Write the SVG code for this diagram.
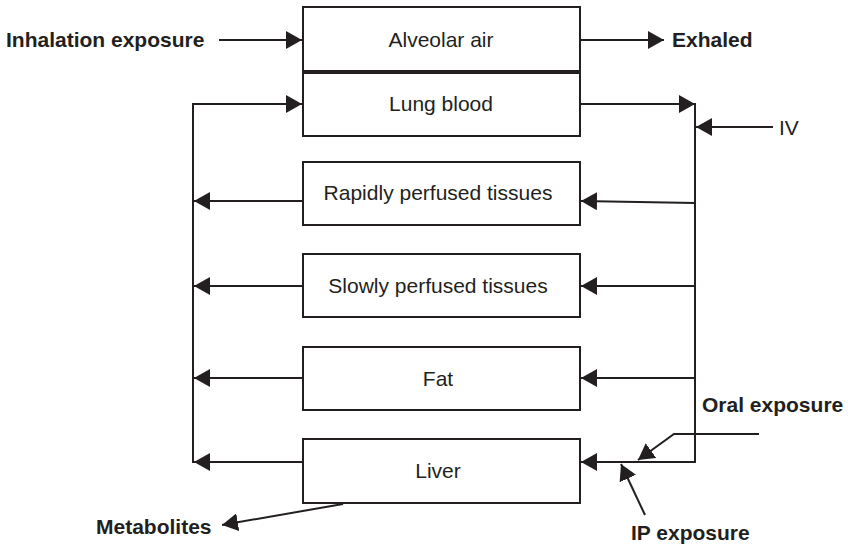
<svg xmlns="http://www.w3.org/2000/svg" width="848" height="548" viewBox="0 0 848 548">
  <style>
    .box { fill: #ffffff; stroke: #231f20; stroke-width: 2; }
    .lbl { font-family: "Liberation Sans", Arial, sans-serif; font-size: 21px; fill: #231f20; text-anchor: middle; }
    .ext { font-family: "Liberation Sans", Arial, sans-serif; font-size: 21px; font-weight: bold; fill: #231f20; }
    .reg { font-family: "Liberation Sans", Arial, sans-serif; font-size: 21px; fill: #231f20; }
    .wire { fill: none; stroke: #231f20; stroke-width: 2; }
    .arr { fill: none; stroke: #231f20; stroke-width: 2; marker-end: url(#head); }
  </style>
  <defs>
    <marker id="head" markerUnits="userSpaceOnUse" markerWidth="17" markerHeight="18" viewBox="0 0 17 18" refX="16" refY="9" orient="auto">
      <path d="M0,0 L16,9 L0,18 Z" fill="#231f20"/>
    </marker>
  </defs>

  <rect width="848" height="548" fill="#ffffff"/>

  <!-- compartments -->
  <g id="alveolar-air">
    <rect class="box" x="303" y="7" width="277" height="64"/>
    <text class="lbl" x="441" y="47">Alveolar air</text>
  </g>
  <g id="lung-blood">
    <rect class="box" x="303" y="73" width="277" height="63"/>
    <text class="lbl" x="441" y="111">Lung blood</text>
  </g>
  <g id="rapidly-perfused">
    <rect class="box" x="303" y="162" width="277" height="63"/>
    <text class="lbl" x="438" y="200">Rapidly perfused tissues</text>
  </g>
  <g id="slowly-perfused">
    <rect class="box" x="303" y="254" width="277" height="63"/>
    <text class="lbl" x="438" y="293">Slowly perfused tissues</text>
  </g>
  <g id="fat">
    <rect class="box" x="303" y="347" width="277" height="63"/>
    <text class="lbl" x="438" y="386">Fat</text>
  </g>
  <g id="liver">
    <rect class="box" x="303" y="439" width="277" height="64"/>
    <text class="lbl" x="438" y="478">Liver</text>
  </g>

  <!-- external labels -->
  <g id="inhalation">
    <text class="ext" x="6" y="47">Inhalation exposure</text>
  </g>
  <g id="exhaled">
    <text class="ext" x="672" y="47">Exhaled</text>
  </g>
  <g id="iv">
    <text class="reg" x="779" y="135">IV</text>
  </g>
  <g id="oral">
    <text class="ext" x="702" y="412">Oral exposure</text>
  </g>
  <g id="ip">
    <text class="ext" x="631" y="540">IP exposure</text>
  </g>
  <g id="metabolites">
    <text class="ext" x="96" y="534">Metabolites</text>
  </g>

  <!-- flows -->
  <g id="connectors">
    <line class="arr" x1="219" y1="40" x2="302" y2="40"/>
    <line class="arr" x1="581" y1="40" x2="664" y2="40"/>
    <!-- arterial side -->
    <line class="arr" x1="581" y1="104" x2="695" y2="104"/>
    <line class="wire" x1="695" y1="103" x2="695" y2="463"/>
    <line class="arr" x1="773" y1="127" x2="696" y2="127"/>
    <line class="arr" x1="695" y1="203" x2="581" y2="201"/>
    <line class="arr" x1="695" y1="286" x2="581" y2="286"/>
    <line class="arr" x1="695" y1="378" x2="581" y2="378"/>
    <line class="arr" x1="696" y1="462" x2="581" y2="462"/>
    <!-- venous side -->
    <line class="arr" x1="303" y1="201" x2="194" y2="201"/>
    <line class="arr" x1="303" y1="286" x2="194" y2="286"/>
    <line class="arr" x1="303" y1="378" x2="194" y2="378"/>
    <line class="arr" x1="303" y1="462" x2="194" y2="462"/>
    <line class="wire" x1="193" y1="463" x2="193" y2="103"/>
    <line class="arr" x1="192" y1="104" x2="302" y2="104"/>
    <!-- dosing routes -->
    <polyline class="arr" points="759,434 674,434 638,460"/>
    <line class="arr" x1="645" y1="515" x2="621" y2="464"/>
    <line class="arr" x1="343" y1="504" x2="222" y2="525"/>
  </g>
</svg>
